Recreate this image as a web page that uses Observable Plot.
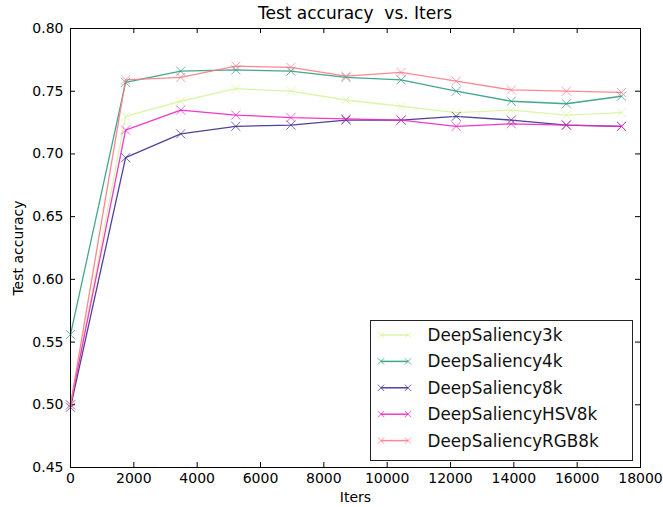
<!DOCTYPE html>
<html>
<head>
<meta charset="utf-8">
<script src="https://cdn.jsdelivr.net/npm/d3@7"></script>
<script src="https://cdn.jsdelivr.net/npm/@observablehq/plot@0.6"></script>
<style>
  html, body { margin: 0; padding: 0; background: white; }
  #wrap { position: relative; width: 663px; height: 507px; font-family: "DejaVu Sans", sans-serif; }
  #title { position: absolute; left: 70px; width: 570px; top: 3px; text-align: center; font-size: 17px; color: black; white-space: pre; }
  #legend { position: absolute; left: 0; top: 0; pointer-events: none; }
</style>
</head>
<body>
<div id="wrap">
  <div id="chart"></div>
  <div id="title">Test accuracy  vs. Iters</div>
  <svg id="legend" width="663" height="507"></svg>
</div>
<script>
// ---- data ----
const iters = [0, 1740, 3480, 5220, 6960, 8700, 10440, 12180, 13920, 15660, 17400];
const seriesNames = ["DeepSaliency3k", "DeepSaliency4k", "DeepSaliency8k", "DeepSaliencyHSV8k", "DeepSaliencyRGB8k"];
const acc3k  = [0.500, 0.730, 0.742, 0.752, 0.750, 0.743, 0.738, 0.733, 0.735, 0.731, 0.733];
const acc4k  = [0.556, 0.757, 0.766, 0.767, 0.766, 0.761, 0.759, 0.750, 0.742, 0.740, 0.746];
const acc8k  = [0.498, 0.697, 0.716, 0.722, 0.723, 0.727, 0.727, 0.730, 0.727, 0.723, 0.722];
const accHSV = [0.500, 0.719, 0.735, 0.731, 0.729, 0.728, 0.727, 0.722, 0.724, 0.723, 0.722];
const accRGB = [0.500, 0.759, 0.761, 0.770, 0.769, 0.762, 0.765, 0.758, 0.751, 0.750, 0.749];
const xTicks = [0, 2000, 4000, 6000, 8000, 10000, 12000, 14000, 16000, 18000];
const yTicks = [0.45, 0.50, 0.55, 0.60, 0.65, 0.70, 0.75, 0.80];
const colors = ["#d6f59e", "#2f9c82", "#3b2e8e", "#f022c8", "#ff7a85"];

const allSeries = [acc3k, acc4k, acc8k, accHSV, accRGB];
const rows = [];
allSeries.forEach((vals, si) => vals.forEach((v, i) => rows.push({series: seriesNames[si], iter: iters[i], acc: v})));

const W = 663, H = 507, ML = 70, MR = 23, MT = 28, MB = 40;
const PW = W - ML - MR, PH = H - MT - MB;
const TL = 5;

const chart = Plot.plot({
  width: W, height: H,
  marginLeft: ML, marginRight: MR, marginTop: MT, marginBottom: MB,
  style: {fontFamily: "DejaVu Sans", fontSize: "14px", background: "white", color: "black", overflow: "visible"},
  x: {domain: [0, 18000]},
  y: {domain: [0.45, 0.80]},
  color: {domain: seriesNames, range: colors},
  marks: [
    Plot.axisX({ticks: xTicks, tickSize: 0, tickPadding: 6, tickFormat: "d", label: "Iters", labelAnchor: "center", labelOffset: 34, labelArrow: "none", fontSize: 14}),
    Plot.axisY({ticks: yTicks, tickSize: 0, tickPadding: 7, tickFormat: ".2f", label: "Test accuracy", labelAnchor: "center", labelOffset: 57, labelArrow: "none", fontSize: 14}),
    Plot.tickX(xTicks, {x: d => d, insetTop: PH - TL, stroke: "black"}),
    Plot.tickX(xTicks, {x: d => d, insetBottom: PH - TL, stroke: "black"}),
    Plot.tickY(yTicks, {y: d => d, insetRight: PW - TL, stroke: "black"}),
    Plot.tickY(yTicks, {y: d => d, insetLeft: PW - TL, stroke: "black"}),
    Plot.line(rows, {x: "iter", y: "acc", stroke: "series", strokeWidth: 1.3, strokeOpacity: 0.9}),
    Plot.dot(rows, {x: "iter", y: "acc", stroke: "series", symbol: "times", r: 4.2, strokeWidth: 1, strokeOpacity: 0.7}),
    Plot.frame({stroke: "black", strokeWidth: 1})
  ]
});
document.getElementById("chart").appendChild(chart);

// ---- legend (inside plot area, lower right) ----
const lg = d3.select("#legend");
const bx = 370, by = 320, bw = 262, bh = 140;
lg.append("rect").attr("x", bx + 0.5).attr("y", by + 0.5).attr("width", bw).attr("height", bh)
  .attr("fill", "white").attr("stroke", "#222").attr("stroke-width", 1);
seriesNames.forEach((name, i) => {
  const cy = by + 15 + i * 26.4;
  const g = lg.append("g");
  g.append("line").attr("x1", 381).attr("x2", 408).attr("y1", cy).attr("y2", cy)
    .attr("stroke", colors[i]).attr("stroke-width", 1.5).attr("stroke-opacity", 0.9);
  [381, 408].forEach(px => {
    const s = 3.2;
    g.append("path").attr("d", `M${px - s},${cy - s}L${px + s},${cy + s}M${px - s},${cy + s}L${px + s},${cy - s}`)
      .attr("stroke", colors[i]).attr("stroke-width", 1).attr("stroke-opacity", 0.75).attr("fill", "none");
  });
  g.append("text").attr("x", 427.5).attr("y", cy).attr("dy", "0.36em")
    .attr("font-family", "DejaVu Sans").attr("font-size", 16.8).attr("fill", "#111").text(name);
});
</script>
</body>
</html>
